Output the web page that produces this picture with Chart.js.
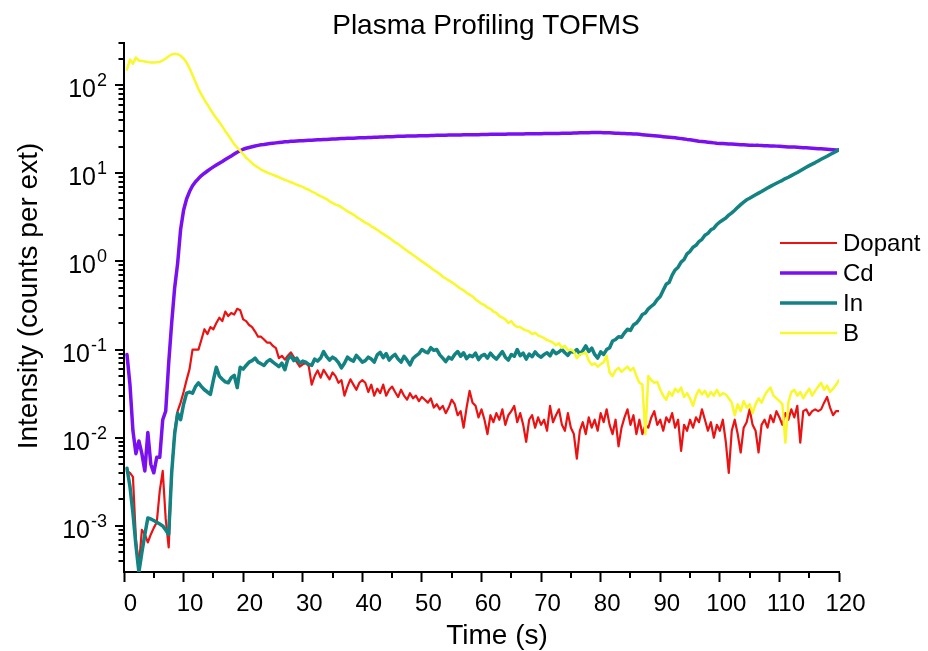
<!DOCTYPE html>
<html>
<head>
<meta charset="utf-8">
<title>Plasma Profiling TOFMS</title>
<script src="https://cdn.jsdelivr.net/npm/chart.js@4"></script>
<style>
  html, body { margin: 0; padding: 0; background: #fff; }
  canvas { display: block; }
</style>
</head>
<body>
<canvas id="c" width="928" height="651"></canvas>
<script>
// time axis (s), 0.5 s steps, one row = 10 s
const TIME = [
  0.5,1,1.5,2,2.5,3,3.5,4,4.5,5,5.5,6,6.5,7,7.5,8,8.5,9,9.5,10,
  10.5,11,11.5,12,12.5,13,13.5,14,14.5,15,15.5,16,16.5,17,17.5,18,18.5,19,19.5,20,
  20.5,21,21.5,22,22.5,23,23.5,24,24.5,25,25.5,26,26.5,27,27.5,28,28.5,29,29.5,30,
  30.5,31,31.5,32,32.5,33,33.5,34,34.5,35,35.5,36,36.5,37,37.5,38,38.5,39,39.5,40,
  40.5,41,41.5,42,42.5,43,43.5,44,44.5,45,45.5,46,46.5,47,47.5,48,48.5,49,49.5,50,
  50.5,51,51.5,52,52.5,53,53.5,54,54.5,55,55.5,56,56.5,57,57.5,58,58.5,59,59.5,60,
  60.5,61,61.5,62,62.5,63,63.5,64,64.5,65,65.5,66,66.5,67,67.5,68,68.5,69,69.5,70,
  70.5,71,71.5,72,72.5,73,73.5,74,74.5,75,75.5,76,76.5,77,77.5,78,78.5,79,79.5,80,
  80.5,81,81.5,82,82.5,83,83.5,84,84.5,85,85.5,86,86.5,87,87.5,88,88.5,89,89.5,90,
  90.5,91,91.5,92,92.5,93,93.5,94,94.5,95,95.5,96,96.5,97,97.5,98,98.5,99,99.5,100,
  100.5,101,101.5,102,102.5,103,103.5,104,104.5,105,105.5,106,106.5,107,107.5,108,108.5,109,109.5,110,
  110.5,111,111.5,112,112.5,113,113.5,114,114.5,115,115.5,116,116.5,117,117.5,118,118.5,119,119.5,120
];

const DOPANT = [
  0.0042,0.004,0.0036,0.0007,0.00035,0.0009,0.0008,0.00065,0.0008,0.00095,0.0011,0.0025,0.0042,0.0012,0.00057,0.004,0.012,0.02,0.025,0.033,
  0.045,0.06,0.1,0.1,0.1,0.13,0.17,0.15,0.18,0.17,0.2,0.23,0.21,0.27,0.24,0.26,0.25,0.29,0.28,0.22,
  0.21,0.19,0.18,0.16,0.14,0.14,0.13,0.12,0.12,0.11,0.104,0.08,0.085,0.077,0.085,0.093,0.082,0.072,0.064,0.068,
  0.07,0.065,0.04,0.05,0.058,0.048,0.059,0.052,0.046,0.055,0.05,0.042,0.045,0.03,0.038,0.046,0.04,0.035,0.042,0.045,
  0.042,0.033,0.04,0.03,0.036,0.032,0.04,0.03,0.035,0.038,0.033,0.029,0.035,0.03,0.027,0.032,0.028,0.03,0.026,0.029,
  0.027,0.025,0.028,0.022,0.024,0.021,0.023,0.019,0.022,0.027,0.024,0.018,0.02,0.013,0.022,0.034,0.025,0.023,0.017,0.021,
  0.016,0.011,0.018,0.015,0.019,0.016,0.021,0.014,0.018,0.02,0.023,0.015,0.019,0.014,0.009,0.016,0.018,0.013,0.017,0.014,
  0.016,0.012,0.023,0.015,0.018,0.021,0.014,0.012,0.019,0.013,0.011,0.0058,0.012,0.015,0.011,0.017,0.013,0.016,0.012,0.019,
  0.015,0.021,0.014,0.011,0.016,0.008,0.013,0.017,0.021,0.014,0.018,0.011,0.016,0.011,0.014,0.013,0.017,0.02,0.014,0.016,
  0.012,0.017,0.015,0.019,0.013,0.016,0.0071,0.014,0.012,0.016,0.013,0.017,0.015,0.021,0.016,0.012,0.015,0.01,0.014,0.012,
  0.016,0.009,0.004,0.012,0.016,0.011,0.0068,0.013,0.015,0.021,0.014,0.012,0.0068,0.014,0.016,0.013,0.018,0.015,0.02,0.017,
  0.014,0.019,0.016,0.021,0.017,0.023,0.0088,0.02,0.021,0.018,0.02,0.021,0.02,0.021,0.025,0.029,0.022,0.018,0.02,0.02
];

const CD = [
  0.088,0.04,0.012,0.0066,0.0092,0.0066,0.0042,0.0115,0.005,0.004,0.006,0.006,0.016,0.02,0.07,0.2,0.5,0.95,2.3,3.8,
  5.1,6.2,7.2,8.0,8.7,9.4,10.0,10.6,11.2,11.8,12.4,13.0,13.6,14.3,15.0,15.7,16.5,17.3,18.0,18.7,
  19.2,19.6,20.0,20.4,20.7,21.0,21.2,21.5,21.7,21.9,22.1,22.3,22.5,22.7,22.8,23.0,23.1,23.2,23.3,23.4,
  23.5,23.6,23.7,23.8,23.9,24.0,24.1,24.2,24.3,24.4,24.5,24.6,24.7,24.8,24.9,25.0,25.0,25.1,25.2,25.3,
  25.3,25.4,25.5,25.6,25.6,25.7,25.8,25.9,26.0,26.0,26.1,26.2,26.2,26.3,26.4,26.4,26.5,26.5,26.6,26.6,
  26.7,26.7,26.8,26.8,26.9,26.9,27.0,27.0,27.1,27.1,27.1,27.2,27.2,27.3,27.3,27.3,27.4,27.4,27.4,27.5,
  27.5,27.5,27.6,27.6,27.6,27.7,27.7,27.7,27.8,27.8,27.8,27.9,27.9,27.9,28.0,28.0,28.0,28.1,28.1,28.1,
  28.2,28.2,28.2,28.3,28.3,28.3,28.4,28.4,28.5,28.5,28.6,28.6,28.7,28.7,28.8,28.8,28.9,28.9,28.9,28.9,
  28.8,28.7,28.7,28.6,28.5,28.4,28.3,28.2,28.1,28.0,27.9,27.8,27.6,27.4,27.2,27.0,26.8,26.6,26.4,26.2,
  26.0,25.8,25.6,25.4,25.2,25.0,24.7,24.5,24.2,24.0,23.7,23.4,23.1,22.9,22.7,22.5,22.3,22.1,21.9,21.8,
  21.7,21.6,21.5,21.4,21.3,21.2,21.1,21.0,20.9,20.8,20.8,20.7,20.7,20.6,20.5,20.5,20.4,20.4,20.3,20.2,
  20.1,20.0,19.9,19.8,19.8,19.7,19.6,19.5,19.4,19.3,19.2,19.1,19.0,18.9,18.8,18.7,18.6,18.5,18.4,18.3
];

const IN = [
  0.0045,0.0028,0.0014,0.0006,0.0003,0.0005,0.0008,0.00123,0.0012,0.00115,0.0011,0.00105,0.001,0.0009,0.0008,0.004,0.011,0.019,0.016,0.024,
  0.032,0.033,0.032,0.038,0.042,0.038,0.035,0.033,0.031,0.045,0.063,0.05,0.046,0.043,0.042,0.048,0.051,0.037,0.063,0.06,
  0.066,0.072,0.075,0.08,0.072,0.069,0.066,0.073,0.077,0.072,0.068,0.064,0.07,0.059,0.078,0.085,0.075,0.08,0.07,0.074,
  0.072,0.068,0.066,0.078,0.074,0.08,0.095,0.083,0.076,0.082,0.078,0.071,0.062,0.07,0.082,0.077,0.074,0.086,0.079,0.072,
  0.075,0.082,0.078,0.072,0.087,0.093,0.081,0.09,0.076,0.083,0.088,0.078,0.072,0.084,0.076,0.067,0.079,0.085,0.09,0.1,
  0.095,0.092,0.105,0.098,0.1,0.087,0.08,0.073,0.082,0.078,0.088,0.095,0.084,0.092,0.079,0.086,0.083,0.091,0.077,0.085,
  0.088,0.08,0.091,0.083,0.078,0.086,0.095,0.082,0.076,0.088,0.084,0.1,0.085,0.091,0.078,0.089,0.083,0.094,0.086,0.082,
  0.088,0.092,0.085,0.098,0.09,0.094,0.1,0.092,0.086,0.096,0.093,0.1,0.089,0.097,0.11,0.095,0.104,0.088,0.08,0.094,
  0.088,0.1,0.105,0.125,0.13,0.14,0.138,0.155,0.17,0.165,0.19,0.2,0.22,0.25,0.26,0.29,0.31,0.33,0.37,0.4,
  0.47,0.55,0.58,0.7,0.8,0.86,0.98,1.05,1.22,1.3,1.45,1.52,1.68,1.78,1.98,2.08,2.28,2.38,2.62,2.8,
  2.95,3.1,3.35,3.55,3.8,4.1,4.4,4.7,5.0,5.2,5.45,5.7,5.95,6.2,6.5,6.8,7.1,7.4,7.7,8.0,
  8.3,8.7,9.0,9.4,9.8,10.2,10.7,11.2,11.7,12.2,12.7,13.2,13.8,14.4,15.0,15.6,16.3,17.0,17.7,18.4
];

const B = [
  150,195,175,205,190,188,185,182,180,180,181,183,190,200,212,222,226,224,215,200,
  180,155,130,108,90,78,68,60,53,47,42,38,34,30,27,24,21.5,19.5,18,16.5,
  15.0,14.0,13.0,12.2,11.6,11.0,10.6,10.2,9.9,9.6,9.3,9.0,8.7,8.4,8.2,7.9,7.7,7.4,7.2,7.0,
  6.7,6.5,6.2,6.0,5.7,5.5,5.3,5.1,4.8,4.6,4.4,4.3,4.1,3.9,3.7,3.55,3.4,3.2,3.05,2.9,
  2.75,2.65,2.5,2.4,2.28,2.15,2.05,1.95,1.85,1.75,1.65,1.58,1.48,1.4,1.32,1.25,1.18,1.12,1.06,1.0,
  0.95,0.9,0.85,0.8,0.76,0.72,0.67,0.64,0.61,0.58,0.55,0.52,0.49,0.47,0.44,0.42,0.4,0.37,0.35,0.33,
  0.32,0.3,0.29,0.27,0.26,0.24,0.23,0.22,0.2,0.21,0.19,0.18,0.18,0.17,0.165,0.16,0.15,0.155,0.145,0.14,
  0.135,0.128,0.125,0.12,0.112,0.118,0.105,0.11,0.098,0.1,0.095,0.08,0.088,0.09,0.093,0.075,0.067,0.07,0.064,0.068,
  0.072,0.085,0.055,0.05,0.058,0.062,0.056,0.06,0.064,0.058,0.062,0.05,0.042,0.04,0.011,0.05,0.045,0.042,0.043,0.035,
  0.03,0.027,0.033,0.03,0.036,0.033,0.037,0.029,0.032,0.028,0.023,0.03,0.035,0.031,0.034,0.029,0.033,0.03,0.035,0.03,
  0.032,0.031,0.028,0.025,0.018,0.024,0.02,0.026,0.022,0.024,0.019,0.024,0.028,0.025,0.03,0.034,0.037,0.03,0.028,0.026,
  0.024,0.0088,0.025,0.033,0.035,0.03,0.033,0.028,0.032,0.036,0.03,0.034,0.038,0.042,0.035,0.039,0.033,0.036,0.04,0.045
];

// tick labels
const Y_EXP = [-3, -2, -1, 0, 1, 2];         // 10^e labels on the log axis
const X_MINOR = [5,15,25,35,45,55,65,75,85,95,105,115];

const FONT = '"Liberation Sans", Arial, sans-serif';

[DOPANT, CD, IN, B].forEach((arr, i) => {
  if (arr.length !== TIME.length) throw new Error('series ' + i + ' has ' + arr.length + ' values, expected ' + TIME.length);
});

// ticks, labels, titles and legend drawn by hand (superscripts + minor ticks)
const decor = {
  id: 'decor',
  afterDraw(chart){
    const {ctx, chartArea: a, scales: {x, y}} = chart;
    ctx.save();
    ctx.strokeStyle = '#000';
    ctx.fillStyle = '#000';
    ctx.lineWidth = 2;

    // x minor ticks
    X_MINOR.forEach(v => {
      const px = Math.round(x.getPixelForValue(v));
      ctx.beginPath(); ctx.moveTo(px, a.bottom); ctx.lineTo(px, a.bottom + 6); ctx.stroke();
    });

    // y ticks (major + minor)
    for(let e = -4; e <= 2; e++){
      for(let m = 1; m <= 9; m++){
        const v = m * Math.pow(10, e);
        if(v <= y.min * 1.01 || v > y.max) continue;
        const py = Math.round(y.getPixelForValue(v));
        const len = m === 1 ? 9 : 5.5;
        ctx.beginPath(); ctx.moveTo(a.left, py); ctx.lineTo(a.left - len, py); ctx.stroke();
      }
    }

    // y labels 10^e
    const right = 107;
    Y_EXP.forEach(e => {
      const py = y.getPixelForValue(Math.pow(10, e));
      const es = e < 0 ? '-' + (-e) : String(e);
      ctx.font = '18px ' + FONT;
      const ew = ctx.measureText(es).width;
      const ex = right - ew;
      ctx.textAlign = 'left';
      ctx.textBaseline = 'alphabetic';
      ctx.fillText(es, ex, py + 1);
      ctx.font = '25px ' + FONT;
      ctx.textAlign = 'right';
      ctx.fillText('10', ex - 1, py + 12);
    });

    // titles
    ctx.font = '28px ' + FONT;
    ctx.textAlign = 'center';
    ctx.textBaseline = 'alphabetic';
    ctx.fillText('Plasma Profiling TOFMS', 486, 34);
    ctx.fillText('Time (s)', 497, 644);
    ctx.save();
    ctx.translate(37, 296);
    ctx.rotate(-Math.PI / 2);
    ctx.fillText('Intensity (counts per ext)', 0, 0);
    ctx.restore();

    // legend
    ctx.font = '24px ' + FONT;
    ctx.textAlign = 'left';
    chart.data.datasets.forEach((ds, i) => {
      const ly = 243 + i * 30;
      ctx.strokeStyle = ds.borderColor;
      ctx.lineWidth = ds.borderWidth;
      ctx.beginPath(); ctx.moveTo(780, ly); ctx.lineTo(837, ly); ctx.stroke();
      ctx.fillStyle = '#000';
      ctx.fillText(ds.label, 843, ly + 8);
    });
    ctx.restore();
  }
};

function mkSet(label, data, color, width, order){
  return {
    label, data,
    borderColor: color,
    backgroundColor: color,
    borderWidth: width,
    pointRadius: 0,
    tension: 0,
    fill: false,
    order
  };
}

new Chart(document.getElementById('c'), {
  type: 'line',
  data: {
    labels: TIME,
    datasets: [
      mkSet('Dopant', DOPANT, '#ea1212', 2.2, 3),
      mkSet('Cd', CD, '#7a10f0', 3.5, 2),
      mkSet('In', IN, '#138282', 3.5, 1),
      mkSet('B', B, '#f8f82a', 2.5, 0)
    ]
  },
  options: {
    responsive: false,
    animation: false,
    devicePixelRatio: 1,
    layout: { padding: { top: 43, right: 89, left: 0, bottom: 0 } },
    plugins: {
      legend: { display: false },
      title: { display: false },
      tooltip: { enabled: false }
    },
    elements: { line: { borderJoinStyle: 'round', borderCapStyle: 'round' } },
    scales: {
      x: {
        type: 'linear', min: 0, max: 120, bounds: 'data',
        afterFit(s){ s.height = 79; },
        ticks: {
          stepSize: 10, color: '#000', padding: 8, labelOffset: 6.5,
          maxRotation: 0, autoSkip: false,
          font: { family: FONT, size: 24 }
        },
        grid: { drawOnChartArea: false, drawTicks: true, tickLength: 10, tickWidth: 2, tickColor: '#000' },
        border: { display: true, color: '#000', width: 2 }
      },
      y: {
        type: 'logarithmic', min: 3e-4, max: 300, bounds: 'data',
        afterFit(s){ s.width = 124; },
        ticks: { display: false },
        grid: { display: false },
        border: { display: true, color: '#000', width: 2 }
      }
    }
  },
  plugins: [decor]
});
</script>
</body>
</html>
